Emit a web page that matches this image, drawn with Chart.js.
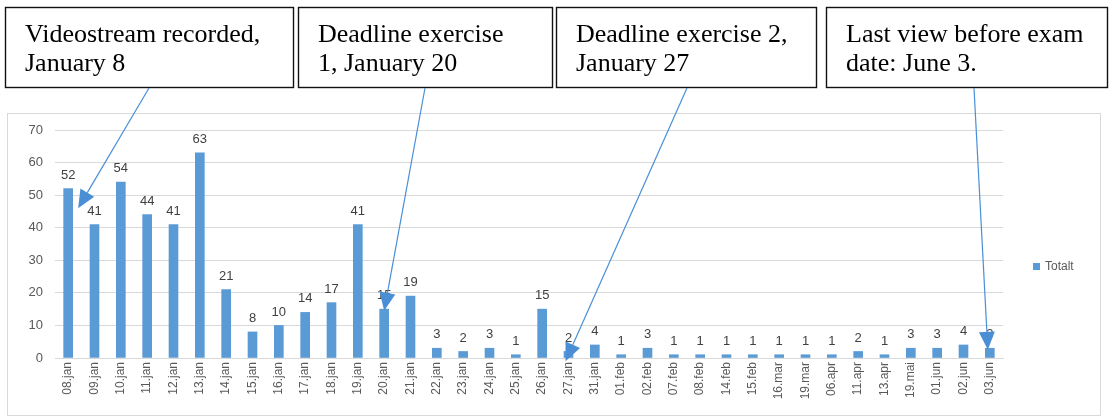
<!DOCTYPE html>
<html>
<head>
<meta charset="utf-8">
<script src="https://cdn.jsdelivr.net/npm/chart.js@4.4.1/dist/chart.umd.min.js"></script>
<style>
  html, body { margin: 0; padding: 0; background: #fff; }
  #wrap { width: 1113px; height: 417px; position: relative; }
</style>
</head>
<body>
<div id="wrap"><canvas id="viewsChart" width="1113" height="417"></canvas></div>
<script>
// views per day
const dates = ["08.jan", "09.jan", "10.jan", "11.jan", "12.jan", "13.jan", "14.jan", "15.jan", "16.jan",
  "17.jan", "18.jan", "19.jan", "20.jan", "21.jan", "22.jan", "23.jan", "24.jan", "25.jan", "26.jan",
  "27.jan", "31.jan", "01.feb", "02.feb", "07.feb", "08.feb", "14.feb", "15.feb", "16.mar", "19.mar",
  "06.apr", "11.apr", "13.apr", "19.mai", "01.jun", "02.jun", "03.jun"];
const totalt = [52, 41, 54, 44, 41, 63, 21, 8, 10, 14, 17, 41, 15, 19, 3, 2, 3, 1, 15,
  2, 4, 1, 3, 1, 1, 1, 1, 1, 1, 1, 2, 1, 3, 3, 4, 3];
const yTicks = [0, 10, 20, 30, 40, 50, 60, 70];

// callout boxes: text lines, and which bar the arrow points at
const noteLines = [
  ["Videostream recorded,", "January 8"],
  ["Deadline exercise", "1, January 20"],
  ["Deadline exercise 2,", "January 27"],
  ["Last view before exam", "date: June 3."]
];
const noteTargets = ["08.jan", "20.jan", "27.jan", "03.jun"];
const noteValues = [46, 14.5, -1, 2.5];

const barColor = "#5b9bd5";
const arrowColor = "#4a8fd6";
const boxes = [[5, 293], [298, 552], [556, 816], [826, 1107]]; // left/right edges
const arrowStartX = [149, 425, 687, 974];
const arrowDx = [10, 0, -3, -2];

const ctx = document.getElementById("viewsChart").getContext("2d");

function drawArrow(c, x1, y1, x2, y2) {
  const ang = Math.atan2(y2 - y1, x2 - x1);
  const len = 18, half = 8;
  const bx = x2 - len * Math.cos(ang), by = y2 - len * Math.sin(ang);
  c.strokeStyle = arrowColor;
  c.lineWidth = 1.2;
  c.beginPath();
  c.moveTo(x1, y1);
  c.lineTo(bx, by);
  c.stroke();
  c.fillStyle = arrowColor;
  c.beginPath();
  c.moveTo(x2, y2);
  c.lineTo(bx + half * Math.sin(ang), by - half * Math.cos(ang));
  c.lineTo(bx - half * Math.sin(ang), by + half * Math.cos(ang));
  c.closePath();
  c.fill();
}

const extras = {
  id: "extras",
  beforeDraw(chart) {
    const c = chart.ctx;
    c.save();
    c.fillStyle = "#fff";
    c.fillRect(0, 0, chart.width, chart.height);
    // chart frame
    c.strokeStyle = "#d9d9d9";
    c.lineWidth = 1;
    c.strokeRect(7.5, 113.5, 1093, 302);
    c.restore();
  },
  afterDatasetsDraw(chart) {
    const c = chart.ctx;
    const meta = chart.getDatasetMeta(0);
    c.save();
    // value labels
    c.fillStyle = "#404040";
    c.font = "13px 'Liberation Sans', Arial, sans-serif";
    c.textAlign = "center";
    c.textBaseline = "bottom";
    meta.data.forEach((bar, i) => {
      c.fillText(String(totalt[i]), bar.x, bar.y - 7);
    });
    // legend
    c.fillStyle = barColor;
    c.fillRect(1033, 263, 7, 7);
    c.fillStyle = "#595959";
    c.font = "12px 'Liberation Sans', Arial, sans-serif";
    c.textAlign = "left";
    c.textBaseline = "middle";
    c.fillText("Totalt", 1045, 267);
    c.restore();
  },
  afterDraw(chart) {
    const c = chart.ctx;
    const xs = chart.scales.x, ys = chart.scales.y;
    c.save();
    // callout boxes
    c.font = "26px 'Liberation Serif', 'Times New Roman', serif";
    c.textAlign = "left";
    c.textBaseline = "alphabetic";
    boxes.forEach(([l, r], i) => {
      c.fillStyle = "#fff";
      c.fillRect(l, 7, r - l, 80);
      c.strokeStyle = "#111";
      c.lineWidth = 1.4;
      c.strokeRect(l + 0.5, 7.5, r - l, 80);
      c.fillStyle = "#000";
      c.fillText(noteLines[i][0], l + 20, 42);
      c.fillText(noteLines[i][1], l + 20, 71);
    });
    // arrows to the bars
    noteTargets.forEach((lab, i) => {
      const idx = dates.indexOf(lab);
      const tx = xs.getPixelForValue(idx) + arrowDx[i];
      const ty = ys.getPixelForValue(noteValues[i]);
      drawArrow(c, arrowStartX[i], 88, tx, ty);
    });
    c.restore();
  }
};

const chartData = {
  labels: dates,
  datasets: [
    {
      label: "Totalt",
      data: totalt,
      backgroundColor: barColor,
      barThickness: 9,
    },
  ],
};

const chartConfig = {
  type: "bar",
  data: chartData,
  options: {
    responsive: false,
    animation: false,
    layout: { padding: { top: 130, right: 110, left: 0, bottom: 0 } },
    plugins: {
      legend: { display: false },
      tooltip: { enabled: false },
    },
    scales: {
      x: {
        grid: { display: false, drawTicks: false },
        border: { color: "#d9d9d9" },
        ticks: {
          color: "#595959",
          font: { size: 12, family: "'Liberation Sans', Arial, sans-serif" },
          minRotation: 90,
          maxRotation: 90,
          autoSkip: false,
          padding: 4,
        },
        afterFit(s) { s.height = 59; },
      },
      y: {
        min: 0,
        max: 70,
        afterBuildTicks(s) { s.ticks = yTicks.map(v => ({ value: v })); },
        grid: { color: "#d9d9d9", drawTicks: false },
        border: { display: false },
        ticks: {
          color: "#595959",
          font: { size: 13, family: "'Liberation Sans', Arial, sans-serif" },
          padding: 12,
        },
        afterFit(s) { s.width = 55; },
      },
    },
  },
  plugins: [extras],
};

let viewsChart = new Chart(ctx, chartConfig);
</script>
</body>
</html>
